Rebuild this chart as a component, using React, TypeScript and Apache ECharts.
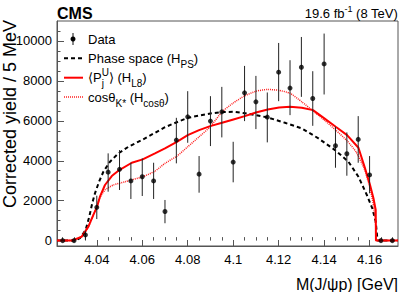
import React, { useEffect, useRef } from "react";
import * as echarts from "echarts";

// ---------- data ----------
const massBins = [
  4.025, 4.03, 4.035, 4.04, 4.045, 4.05, 4.055, 4.06, 4.065, 4.07,
  4.075, 4.08, 4.085, 4.09, 4.095, 4.1, 4.105, 4.11, 4.115, 4.12,
  4.125, 4.13, 4.135, 4.14, 4.145, 4.15, 4.155, 4.16, 4.165, 4.17,
];
const yieldValues = [
  0, 0, 285, 1665, 3430, 3570, 2990, 3200, 2990, 1460,
  5035, 6200, 3330, 5985, 6450, 3935, 7400, 6950, 6185, 8435,
  7640, 8685, 7120, 8850, 4750, 4350, 5070, 3290, 0, 0,
];
const errLow = [
  0, 0, 35, 1080, 2450, 2535, 2085, 2235, 2085, 870,
  3870, 4900, 2400, 4735, 5170, 2920, 5985, 5585, 4920, 6985,
  6285, 7200, 5750, 7320, 3650, 3250, 3900, 2370, 0, 0,
];
const errHigh = [
  0, 0, 500, 2250, 4370, 4535, 3900, 4120, 3900, 2035,
  6150, 7485, 4235, 7235, 7700, 4950, 8750, 8250, 7420, 9900,
  9035, 10200, 8485, 10370, 5700, 5420, 6235, 4235, 0, 0,
];

// Phase space (H_PS)
const psMass = [
  4.0225, 4.0305, 4.0326, 4.0351, 4.0367, 4.038, 4.0392, 4.041, 4.0429, 4.0458,
  4.0495, 4.0539, 4.0598, 4.0656, 4.07, 4.0752, 4.08, 4.09, 4.0951, 4.1001,
  4.1052, 4.1152, 4.1228, 4.1302, 4.1375, 4.1448, 4.1507, 4.1551, 4.1588, 4.1612,
  4.1627, 4.1635, 4.1725,
];
const psYield = [
  0, 0, 120, 535, 1200, 1870, 2370, 2950, 3450, 3950,
  4370, 4700, 5035, 5400, 5680, 5930, 6150, 6370, 6440, 6450,
  6380, 6170, 5900, 5620, 5120, 4535, 3950, 3200, 2285, 1620,
  950, 0, 0,
];

// <P_j^U> (H_L8)
const l8Mass = [
  4.0225, 4.029, 4.0334, 4.0363, 4.0385, 4.04, 4.0414, 4.0436, 4.0466, 4.0499,
  4.0554, 4.0602, 4.0656, 4.07, 4.0752, 4.08, 4.085, 4.0899, 4.0951, 4.1001,
  4.1051, 4.11, 4.1152, 4.1202, 4.125, 4.1302, 4.1351, 4.1401, 4.1451, 4.1501,
  4.1551, 4.158, 4.1602, 4.1617, 4.1627, 4.1628, 4.1725,
];
const l8Yield = [
  0, 0, 200, 700, 1285, 1665, 2200, 2785, 3235, 3535,
  3900, 4070, 4370, 4620, 4950, 5285, 5535, 5735, 5900, 6070,
  6235, 6420, 6570, 6670, 6700, 6650, 6535, 6120, 5700, 5285,
  4650, 3620, 2785, 2120, 1535, 0, 0,
];

// cos(theta_K*) (H_cos)
const cosMass = [
  4.0225, 4.029, 4.0334, 4.0363, 4.0385, 4.04, 4.0414, 4.0436, 4.0473, 4.0524,
  4.0602, 4.0656, 4.07, 4.0752, 4.08, 4.085, 4.0899, 4.0951, 4.1001, 4.1051,
  4.11, 4.115, 4.12, 4.125, 4.1302, 4.1351, 4.1401, 4.1451, 4.1501, 4.154,
  4.1576, 4.1602, 4.1617, 4.1627, 4.1631, 4.1725,
];
const cosYield = [
  0, 0, 200, 700, 1285, 1665, 2150, 2535, 2785, 2950,
  3200, 3480, 3870, 4230, 4700, 5200, 5700, 6450, 6900, 7250,
  7480, 7570, 7530, 7380, 6950, 6500, 6035, 5535, 5000, 4450,
  3620, 2620, 1785, 785, 0, 0,
];

const xMajorTicks = [4.04, 4.06, 4.08, 4.1, 4.12, 4.14, 4.16];
const xMinorTicks = [
  4.025, 4.03, 4.035, 4.045, 4.05, 4.055, 4.065, 4.07, 4.075, 4.085,
  4.09, 4.095, 4.105, 4.11, 4.115, 4.125, 4.13, 4.135, 4.145, 4.15,
  4.155, 4.165, 4.17,
];
const yMajorTicks = [0, 2000, 4000, 6000, 8000, 10000];
const yMinorTicks = [
  500, 1000, 1500, 2500, 3000, 3500, 4500, 5000, 5500, 6500,
  7000, 7500, 8500, 9000, 9500, 10500,
];

const X_MIN = 4.0225;
const X_MAX = 4.1725;
const Y_MIN = -270;
const Y_MAX = 11000;

const FONT = '"Liberation Sans", Arial, Helvetica, sans-serif';
const AXIS_COLOR = "#555";

type Seg = { t: string; s: number; dy: number; bold?: boolean; pair?: Seg };

let measureCtx: CanvasRenderingContext2D | null = null;
function textWidth(t: string, s: number, bold?: boolean): number {
  if (!measureCtx) measureCtx = document.createElement("canvas").getContext("2d");
  if (!measureCtx) return t.length * s * 0.55;
  measureCtx.font = `${bold ? "bold " : ""}${s}px ${FONT}`;
  return measureCtx.measureText(t).width;
}

function layoutText(segs: Seg[], x0: number, yc: number, align: "left" | "right") {
  const widths = segs.map((g) =>
    Math.max(textWidth(g.t, g.s, g.bold), g.pair ? textWidth(g.pair.t, g.pair.s, g.pair.bold) : 0)
  );
  const total = widths.reduce((a, b) => a + b, 0);
  let x = align === "left" ? x0 : x0 - total;
  const els: any[] = [];
  segs.forEach((g, i) => {
    const items = g.pair ? [g, g.pair] : [g];
    items.forEach((it) => {
      els.push({
        type: "text",
        x,
        y: yc + it.dy,
        silent: true,
        style: {
          text: it.t,
          fontSize: it.s,
          fontFamily: FONT,
          fontWeight: it.bold ? "bold" : "normal",
          fill: "#000",
          align: "left",
          verticalAlign: "middle",
        },
      });
    });
    x += widths[i];
  });
  return els;
}

export default function App() {
  const ref = useRef<HTMLDivElement>(null);

  useEffect(() => {
    document.body.style.margin = "0";
    if (!ref.current) return;
    const chart = echarts.init(ref.current, undefined, { renderer: "svg" });

    const legendX1 = 64;
    const legendX2 = 83;
    const textX = 88;
    const rowY = [39, 58.3, 77.7, 97];

    const graphics: any[] = [
      ...layoutText([{ t: "CMS", s: 16, dy: 0, bold: true }], 57, 13, "left"),
      ...layoutText(
        [
          { t: "19.6 fb", s: 13, dy: 0 },
          { t: "-1", s: 9, dy: -4.5 },
          { t: " (8 TeV)", s: 13, dy: 0 },
        ],
        398,
        13.5,
        "right"
      ),
      // axis titles
      {
        type: "text",
        x: 398,
        y: 284,
        silent: true,
        style: {
          text: "M(J/ψp) [GeV]",
          fontSize: 16,
          fontFamily: FONT,
          fill: "#000",
          align: "right",
          verticalAlign: "middle",
        },
      },
      {
        type: "text",
        x: 10,
        y: 20,
        rotation: Math.PI / 2,
        silent: true,
        style: {
          text: "Corrected yield / 5 MeV",
          fontSize: 18,
          fontFamily: FONT,
          fill: "#000",
          align: "right",
          verticalAlign: "middle",
        },
      },
      // legend symbols
      {
        type: "line",
        silent: true,
        shape: { x1: 73, y1: 33, x2: 73, y2: 45 },
        style: { stroke: "#111", lineWidth: 1 },
      },
      {
        type: "circle",
        silent: true,
        shape: { cx: 73, cy: rowY[0], r: 2.5 },
        style: { fill: "#000" },
      },
      {
        type: "line",
        silent: true,
        shape: { x1: legendX1, y1: rowY[1], x2: legendX2, y2: rowY[1] },
        style: { stroke: "#000", lineWidth: 2, lineDash: [4, 3] },
      },
      {
        type: "line",
        silent: true,
        shape: { x1: legendX1, y1: rowY[2], x2: legendX2, y2: rowY[2] },
        style: { stroke: "#ff0000", lineWidth: 2 },
      },
      {
        type: "line",
        silent: true,
        shape: { x1: legendX1, y1: rowY[3], x2: legendX2, y2: rowY[3] },
        style: { stroke: "#ff2020", lineWidth: 1.5, lineDash: [1, 1] },
      },
      ...layoutText([{ t: "Data", s: 13, dy: 0 }], textX, rowY[0], "left"),
      ...layoutText(
        [
          { t: "Phase space (H", s: 13, dy: 0 },
          { t: "PS", s: 10, dy: 6 },
          { t: ")", s: 13, dy: 0 },
        ],
        textX,
        rowY[1],
        "left"
      ),
      ...layoutText(
        [
          { t: "⟨P", s: 13, dy: 0 },
          { t: "U", s: 10, dy: -5, pair: { t: "j", s: 10, dy: 6 } },
          { t: "⟩ (H", s: 13, dy: 0 },
          { t: "L8", s: 10, dy: 6 },
          { t: ")", s: 13, dy: 0 },
        ],
        textX,
        rowY[2],
        "left"
      ),
      ...layoutText(
        [
          { t: "cosθ", s: 13, dy: 0 },
          { t: "K*", s: 10, dy: 6 },
          { t: " (H", s: 13, dy: 0 },
          { t: "cosθ", s: 10, dy: 6 },
          { t: ")", s: 13, dy: 0 },
        ],
        textX,
        rowY[3],
        "left"
      ),
    ];

    const option: any = {
      animation: false,
      backgroundColor: "#fff",
      textStyle: { fontFamily: FONT },
      grid: {
        left: 57,
        right: 9,
        top: 21,
        bottom: 46,
        show: true,
        borderColor: AXIS_COLOR,
        borderWidth: 1,
        backgroundColor: "transparent",
      },
      xAxis: [
        {
          type: "value",
          min: X_MIN,
          max: X_MAX,
          position: "bottom",
          axisLine: { show: true, onZero: false, lineStyle: { color: AXIS_COLOR, width: 1 } },
          axisTick: {
            show: true,
            inside: true,
            length: 6,
            customValues: xMajorTicks,
            lineStyle: { color: AXIS_COLOR, width: 1 },
          },
          axisLabel: {
            show: true,
            customValues: xMajorTicks,
            margin: 7,
            fontSize: 13,
            fontFamily: FONT,
            color: "#000",
            formatter: (v: number) => String(Math.round(v * 1000) / 1000),
          },
          splitLine: { show: false },
        },
        {
          type: "value",
          min: X_MIN,
          max: X_MAX,
          position: "bottom",
          axisLine: { show: false },
          axisTick: {
            show: true,
            inside: true,
            length: 3.5,
            customValues: xMinorTicks,
            lineStyle: { color: AXIS_COLOR, width: 1 },
          },
          axisLabel: { show: false },
          splitLine: { show: false },
        },
      ],
      yAxis: [
        {
          type: "value",
          min: Y_MIN,
          max: Y_MAX,
          position: "left",
          axisLine: { show: true, onZero: false, lineStyle: { color: AXIS_COLOR, width: 1 } },
          axisTick: {
            show: true,
            inside: true,
            length: 7,
            customValues: yMajorTicks,
            lineStyle: { color: AXIS_COLOR, width: 1 },
          },
          axisLabel: {
            show: true,
            customValues: yMajorTicks,
            margin: 5,
            fontSize: 13,
            fontFamily: FONT,
            color: "#000",
            formatter: (v: number) => String(v),
          },
          splitLine: { show: false },
        },
        {
          type: "value",
          min: Y_MIN,
          max: Y_MAX,
          position: "left",
          axisLine: { show: false },
          axisTick: {
            show: true,
            inside: true,
            length: 3.5,
            customValues: yMinorTicks,
            lineStyle: { color: AXIS_COLOR, width: 1 },
          },
          axisLabel: { show: false },
          splitLine: { show: false },
        },
      ],
      series: [
        {
          name: "Phase space (H_PS)",
          type: "line",
          data: psMass.map((m, i) => [m, psYield[i]]),
          showSymbol: false,
          symbol: "none",
          lineStyle: { color: "#000", width: 2, type: [4, 3] },
          z: 2,
        },
        {
          name: "cos(theta_K*) (H_cos)",
          type: "line",
          data: cosMass.map((m, i) => [m, cosYield[i]]),
          showSymbol: false,
          symbol: "none",
          smooth: 0.2,
          lineStyle: { color: "#ff2020", width: 1.5, type: [1, 1] },
          z: 3,
        },
        {
          name: "<P_j^U> (H_L8)",
          type: "line",
          data: l8Mass.map((m, i) => [m, l8Yield[i]]),
          showSymbol: false,
          symbol: "none",
          lineStyle: { color: "#ff0000", width: 2 },
          z: 4,
        },
        {
          name: "Data errors",
          type: "custom",
          data: massBins.map((m, i) => [m, errLow[i], errHigh[i]]),
          encode: { x: 0, y: [1, 2] },
          renderItem: (params: any, api: any) => {
            const lo = api.coord([api.value(0), api.value(1)]);
            const hi = api.coord([api.value(0), api.value(2)]);
            return {
              type: "line",
              shape: { x1: lo[0], y1: lo[1], x2: hi[0], y2: hi[1] },
              style: { stroke: "#222", lineWidth: 1 },
            };
          },
          z: 5,
        },
        {
          name: "Data",
          type: "scatter",
          data: massBins.map((m, i) => [m, yieldValues[i]]),
          symbol: "circle",
          symbolSize: 5,
          itemStyle: { color: "#000" },
          z: 6,
        },
      ],
      graphic: graphics,
    };

    chart.setOption(option);
    return () => chart.dispose();
  }, []);

  return (
    <div
      ref={ref}
      style={{ position: "absolute", left: 0, top: 0, width: 407, height: 292 }}
    />
  );
}
